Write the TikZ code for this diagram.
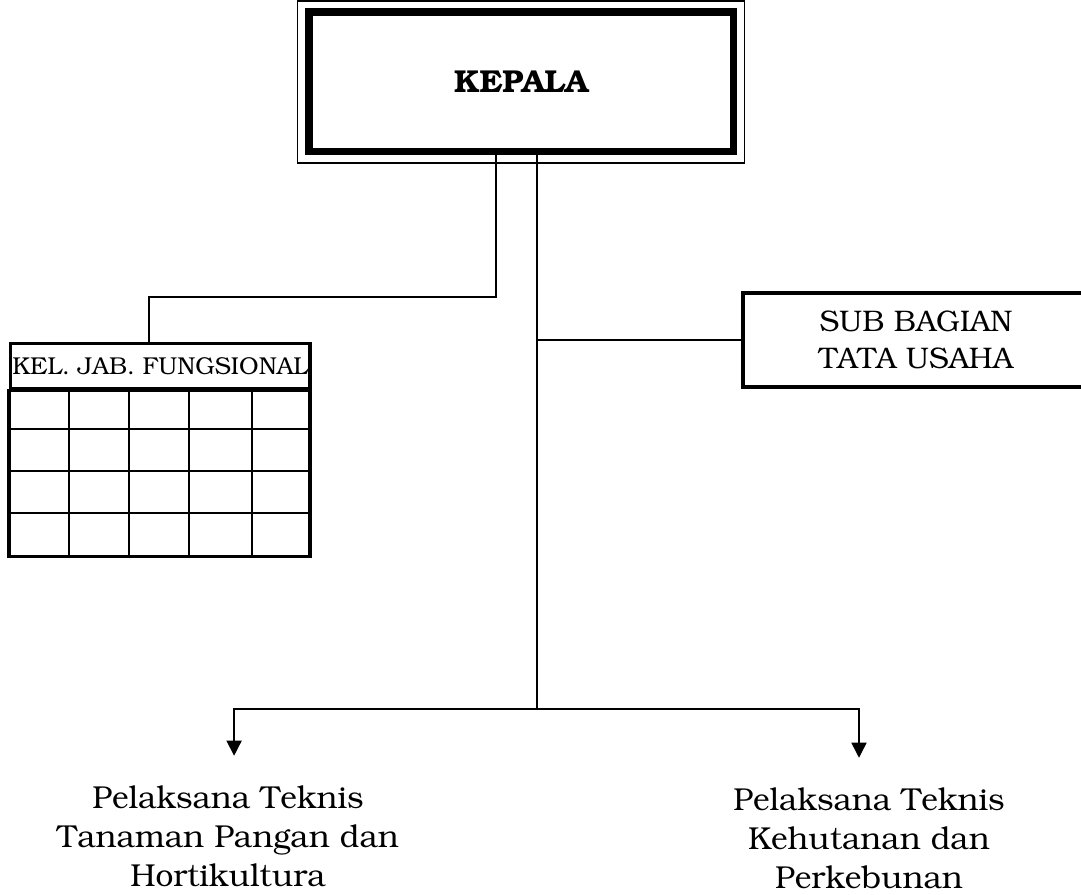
\documentclass[tikz,border=0pt]{standalone}
\usepackage[T1]{fontenc}
\usepackage{bookman}
\usetikzlibrary{arrows.meta}

\newlength{\px}
\setlength{\px}{0.41pt}

\tikzset{
    link/.style={line width=0.6pt},
    arrowlink/.style={link, -{Triangle[length=6.2pt, width=6.2pt]}, shorten >=12.4pt},
    unitbox/.style={draw, line width=3.3\px, align=center, inner sep=0pt},
    unitname/.style={font=\fontsize{13}{16}\selectfont, align=center, inner sep=0pt, anchor=north},
    gridline/.style={line width=2\px},
}

\begin{document}
\begin{tikzpicture}[x=\px, y=-\px]

\useasboundingbox (0,0) rectangle (1081,895);
\clip (0,0) rectangle (1081,895);

% head
\node[draw, line width=7.5\px, minimum width=424.5\px, minimum height=139.5\px,
      font=\bfseries\fontsize{13}{15}\selectfont] (kepala) at (521,82) {KEPALA};
\draw[line width=0.5pt] ([xshift=-7.5\px,yshift=7.5\px]kepala.north west)
    rectangle ([xshift=7.5\px,yshift=-7.5\px]kepala.south east);

\node[unitbox, minimum width=346\px, minimum height=94\px,
      font=\fontsize{12.2}{15.2}\selectfont] (sub) at (916,340) {SUB BAGIAN\\TATA USAHA};

% kelompok jabatan fungsional
\node[unitbox, minimum width=299.5\px, minimum height=45.7\px,
      font=\fontsize{10}{12}\selectfont] (fung) at (160.25,366.2) {KEL. JAB. FUNGSIONAL};
\draw[line width=3.3\px] (fung.south west) rectangle (310,556.5);
\foreach \x in {69,128.5,188.5,252.3}
{
    \draw[gridline] (\x,389) -- (\x,556.5);
}
\foreach \y in {429,471,513.5}
{
    \draw[gridline] (10.5,\y) -- (310,\y);
}

\node[unitname] (tanaman) at (228,786) {Pelaksana Teknis\\Tanaman Pangan dan\\Hortikultura};
\node[unitname] (kehutanan) at (869,788) {Pelaksana Teknis\\Kehutanan dan\\Perkebunan};

\coordinate (kf) at (496,297);
\coordinate (kf2) at (149,297);
\coordinate (bus) at (537,709);

\draw[link] (kepala.south -| kf) -- (kf) -- (kf2) -- (kf2 |- fung.north);
\draw[link] (kepala.south -| bus) -- (bus);
\draw[link] (sub.west -| bus) -- (sub.west);

\draw[arrowlink] (bus) -| ([xshift=2.5pt]tanaman.north);
\draw[arrowlink] (bus) -| ([xshift=-4.1pt]kehutanan.north);

\end{tikzpicture}
\end{document}
